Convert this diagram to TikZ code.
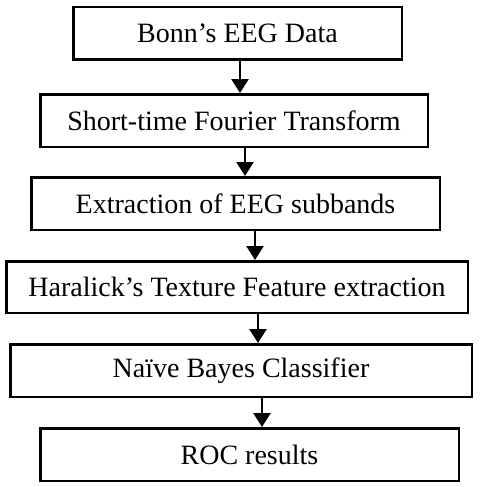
\documentclass[tikz,border=0pt]{standalone}
\usepackage{fontspec}
\setmainfont{Liberation Serif}
\usetikzlibrary{arrows.meta}
\begin{document}
\begin{tikzpicture}[x=1pt, y=-1pt,
    stage/.style={draw, rectangle, line width=2.5pt, minimum height=52.5pt, inner sep=0pt,
        font=\fontsize{28}{32}\selectfont},
    flow/.style={-{Triangle[length=14pt, width=17pt]}, line width=2.5pt}]
     \useasboundingbox (0,0) rectangle (479,487);

     % Data
     \node[stage, minimum width=328.5pt] (bonn) at (237.5,33.5) {Bonn’s EEG Data};

     % STFT
     \node[stage, minimum width=387.5pt] (stft) at (234,120.5) {Short-time Fourier Transform};

     % Subbands
     \node[stage, minimum width=408.5pt] (subband) at (235.5,203.5) {Extraction of EEG subbands};

     % Features
     \node[stage, minimum width=461.5pt, minimum height=51.5pt] (haralick) at (237,287) {Haralick’s Texture Feature extraction};

     % Classifier
     \node[stage, minimum width=461.5pt] (bayes) at (241,370.5) {Naïve Bayes Classifier};

     % Results
     \node[stage, minimum width=418.5pt] (roc) at (249.5,454.5) {ROC results};

     % Flow arrows
     \draw[flow] (bonn.south -| 240,0) -- (stft.north -| 240,0);
     \draw[flow] (stft.south -| 245,0) -- (subband.north -| 245,0);
     \draw[flow] (subband.south -| 255,0) -- (haralick.north -| 255,0);
     \draw[flow] (haralick.south -| 258,0) -- (bayes.north -| 258,0);
     \draw[flow] (bayes.south -| 262,0) -- (roc.north -| 262,0);

\end{tikzpicture}
\end{document}
